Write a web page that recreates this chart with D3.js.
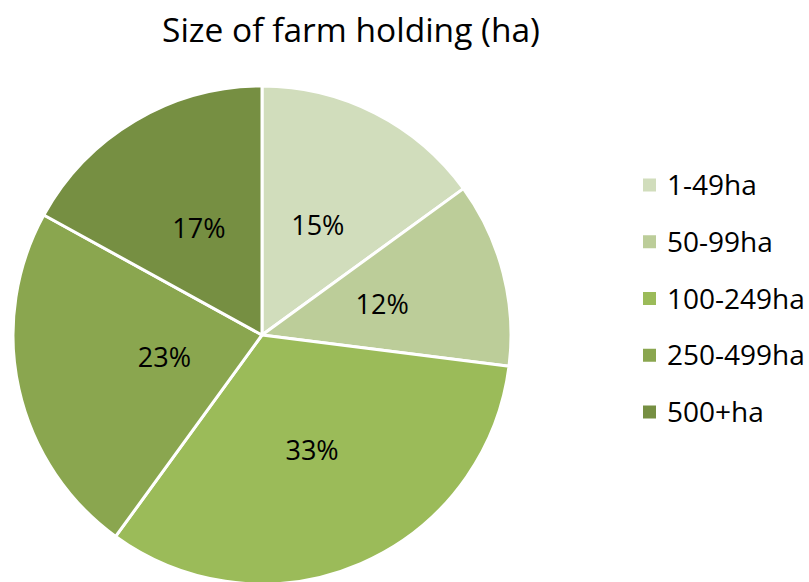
<!DOCTYPE html>
<html>
<head>
<meta charset="utf-8">
<script src="https://cdnjs.cloudflare.com/ajax/libs/d3/7.8.5/d3.min.js"></script>
<style>
  body { margin: 0; background: #fff; }
  text { font-family: "Open Sans", "Noto Sans", sans-serif; fill: #000; }
</style>
</head>
<body>
<svg id="chart" width="809" height="582"></svg>
<script>
// size bands and share of holdings (%)
var categories = ["1-49ha", "50-99ha", "100-249ha", "250-499ha", "500+ha"];
var shares = [15, 12, 33, 23, 17];
var colors = ["#d1ddbc", "#bccd99", "#9bbb59", "#8aa64f", "#768f42"];

var svg = d3.select("#chart"),
    width = +svg.attr("width"),
    height = +svg.attr("height");

var cx = 262, cy = 335, radius = 249;
// label distance from centre for each slice (Excel "best fit" pulls 23% inward)
var labelDist = [123, 124, 126, 100, 124];

svg.append("text")
    .attr("x", 351)
    .attr("y", 42)
    .attr("text-anchor", "middle")
    .style("font-size", "33.5px")
    .text("Size of farm holding (ha)");

var pie = d3.pie().sort(null).value(function (d) { return d; });
var arc = d3.arc().innerRadius(0).outerRadius(radius);
var color = d3.scaleOrdinal().domain(categories).range(colors);

var g = svg.append("g").attr("transform", "translate(" + cx + "," + cy + ")");
var arcs = pie(shares);

g.selectAll("path")
    .data(arcs)
    .enter().append("path")
    .attr("d", arc)
    .attr("fill", function (d, i) { return color(categories[i]); })
    .attr("stroke", "#fff")
    .attr("stroke-width", 3)
    .attr("stroke-linejoin", "round");

g.selectAll("text.lbl")
    .data(arcs)
    .enter().append("text")
    .attr("class", "lbl")
    .attr("transform", function (d, i) {
        var a = (d.startAngle + d.endAngle) / 2;
        return "translate(" + (Math.sin(a) * labelDist[i]) + "," + (-Math.cos(a) * labelDist[i]) + ")";
    })
    .attr("text-anchor", "middle")
    .attr("dy", "0.36em")
    .style("font-size", "27px")
    .text(function (d) { return d.data + "%"; });

// legend
var legend = svg.append("g").attr("transform", "translate(643,185)");
var row = d3.scalePoint().domain(categories).range([0, 227]);

var item = legend.selectAll("g")
    .data(categories)
    .enter().append("g")
    .attr("transform", function (d) { return "translate(0," + row(d) + ")"; });

item.append("rect")
    .attr("x", 0)
    .attr("y", -6.5)
    .attr("width", 13)
    .attr("height", 13)
    .attr("fill", function (d) { return color(d); });

item.append("text")
    .attr("x", 24)
    .attr("dy", "0.36em")
    .style("font-size", "28px")
    .text(function (d) { return d; });
</script>
</body>
</html>
